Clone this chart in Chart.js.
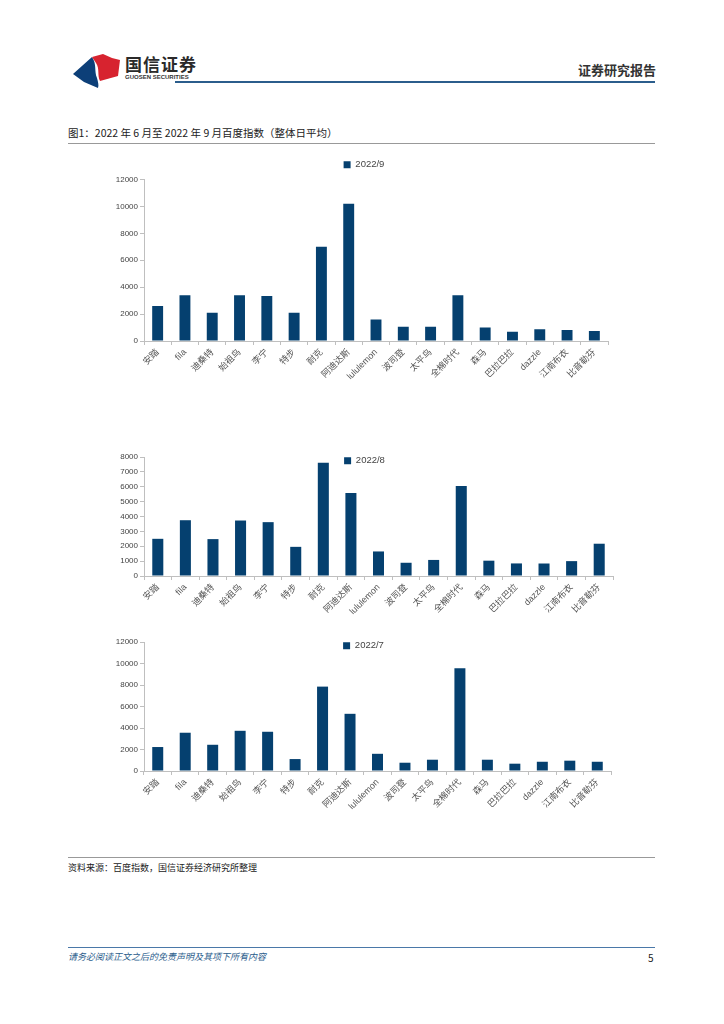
<!DOCTYPE html>
<html>
<head>
<meta charset="utf-8">
<script src="https://cdn.jsdelivr.net/npm/chart.js@4/dist/chart.umd.min.js"></script>
<style>
body { margin: 0; background: #fff; font-family: "Noto Sans CJK SC", sans-serif; }
.page { position: relative; width: 724px; height: 1024px; overflow: hidden; }
.abs { position: absolute; }
.hline { position: absolute; height: 0; }
.box { position: absolute; }
</style>
</head>
<body>
<div class="page">
  <!-- logo -->
  <svg class="abs" style="left:70px;top:50px" width="56" height="40" viewBox="0 0 56 40">
    <path d="M3,24 L22,7 C27,14 24,21 27,28 C28,32 29,35 28,38 L14,32 Z" fill="#0d3f78"/>
    <path d="M22,7 L33,4 L42,8 L50,10 L48,26 L30,31 C27,25 30,19 26,13 Z" fill="#d7232f"/>
  </svg>
  <div class="abs" style="left:125px;top:51px;font-size:17px;font-weight:bold;color:#2a2a2a;letter-spacing:1px">国信证券</div>
  <div class="abs" style="left:125px;top:74px;font-size:6px;font-family:'Liberation Sans',sans-serif;font-weight:bold;color:#333">GUOSEN SECURITIES</div>
  <div class="abs" style="left:578px;top:60px;font-size:13px;font-weight:bold;color:#333">证券研究报告</div>
  <div class="hline" style="left:175px;top:81px;width:480px;border-top:2px solid #2b5d8c"></div>

  <div class="abs" style="left:68px;top:125px;font-size:10.5px;color:#222">图1：2022 年 6 月至 2022 年 9 月百度指数（整体日平均）</div>
  <div class="hline" style="left:68px;top:143px;width:587px;border-top:1px solid #999"></div>

  <div class="box" style="left:100px;top:152px;width:540px;height:250px"><canvas id="c1"></canvas></div>
  <div class="box" style="left:100px;top:450px;width:540px;height:190px"><canvas id="c2"></canvas></div>
  <div class="box" style="left:100px;top:635px;width:540px;height:200px"><canvas id="c3"></canvas></div>

  <div class="hline" style="left:68px;top:857px;width:587px;border-top:1px solid #999"></div>
  <div class="abs" style="left:68px;top:861px;font-size:9px;color:#222">资料来源：百度指数，国信证券经济研究所整理</div>

  <div class="hline" style="left:68px;top:947px;width:587px;border-top:1px solid #4a78a8"></div>
  <div class="abs" style="left:68px;top:950px;font-size:9px;font-style:italic;color:#2b5d8c">请务必阅读正文之后的免责声明及其项下所有内容</div>
  <div class="abs" style="left:648px;top:950px;font-size:10px;color:#222">5</div>
</div>
<script>
const brands = ['安踏', 'fila', '迪桑特', '始祖鸟', '李宁', '特步', '耐克', '阿迪达斯', 'lululemon',
  '波司登', '太平鸟', '全棉时代', '森马', '巴拉巴拉', 'dazzle', '江南布衣', '比音勒芬'];
const sep2022 = [2600, 3400, 2100, 3400, 3350, 2100, 7000, 10200, 1600, 1050, 1050, 3400, 1000, 680, 880, 820, 750];
const aug2022 = [2500, 3750, 2480, 3730, 3620, 1960, 7620, 5580, 1650, 890, 1080, 6050, 1030, 845, 840, 1000, 2170];
const jul2022 = [2230, 3560, 2440, 3740, 3650, 1110, 7850, 5320, 1600, 770, 1050, 9560, 1050, 680, 860, 960, 860];
const seriesNames = ['2022/9', '2022/8', '2022/7'];

const barColor = '#05406f';
const axisColor = '#bfbfbf';
const yFont = { family: '"Liberation Sans", "Noto Sans CJK SC", sans-serif', size: 8 };
const xFont = { family: '"Liberation Sans", "Noto Sans CJK SC", sans-serif', size: 9 };
const legendFont = { family: '"Liberation Sans", sans-serif', size: 9.5 };

// move the legend a bit; when floating it overlaps the plot instead of taking layout space
const legendShift = {
  id: 'legendShift',
  beforeUpdate(chart, args, opts) {
    const lg = chart.legend;
    if (!lg || lg._patched) return;
    const fit = lg.fit;
    const draw = lg.draw;
    lg.fit = function() {
      fit.call(this);
      if (opts.floating) this.height = 0;
    };
    lg.draw = function() {
      const t = this.top, b = this.bottom, l = this.left, r = this.right;
      this.top = t + opts.dy;
      this.bottom = this.top + 24;
      this.left = l + opts.dx;
      this.right = r + opts.dx;
      draw.call(this);
      this.top = t; this.bottom = b; this.left = l; this.right = r;
    };
    lg._patched = true;
  }
};

function makeChart(id, name, values, yMax, step, shift, pad) {
  new Chart(document.getElementById(id), {
    type: 'bar',
    data: {
      labels: brands,
      datasets: [{
        label: name,
        data: values,
        backgroundColor: barColor,
        barPercentage: 0.4,
        categoryPercentage: 1
      }]
    },
    plugins: [legendShift],
    options: {
      responsive: true,
      maintainAspectRatio: false,
      animation: false,
      layout: { padding: pad },
      scales: {
        x: {
          grid: { display: true, drawOnChartArea: false, color: axisColor, tickLength: 4 },
          border: { color: axisColor },
          ticks: { font: xFont, color: '#555', minRotation: 45, maxRotation: 45, autoSkip: false, padding: 2 },
          afterFit: function(scale) { scale.height = pad.xh; }
        },
        y: {
          min: 0,
          max: yMax,
          grid: { display: true, drawOnChartArea: false, color: axisColor, tickLength: 4 },
          border: { color: axisColor },
          ticks: { stepSize: step, font: yFont, color: '#444', padding: 2, callback: v => v },
          afterFit: function(scale) { scale.width = 44; }
        }
      },
      plugins: {
        legendShift: shift,
        legend: {
          position: 'top',
          labels: { boxWidth: 7, boxHeight: 7, padding: 6, font: legendFont, color: '#444' }
        },
        tooltip: { enabled: false }
      }
    }
  });
}

makeChart('c1', seriesNames[0], sep2022, 12000, 2000, { floating: false, dx: 10, dy: 0 },
  { top: 2, right: 32, left: 0, bottom: 0, xh: 61 });
makeChart('c2', seriesNames[1], aug2022, 8000, 1000, { floating: true, dx: 8, dy: -7 },
  { top: 7, right: 27, left: 0, bottom: 0, xh: 64 });
makeChart('c3', seriesNames[2], jul2022, 12000, 2000, { floating: true, dx: 8, dy: -7 },
  { top: 7, right: 29, left: 0, bottom: 0, xh: 64 });
</script>
</body>
</html>
